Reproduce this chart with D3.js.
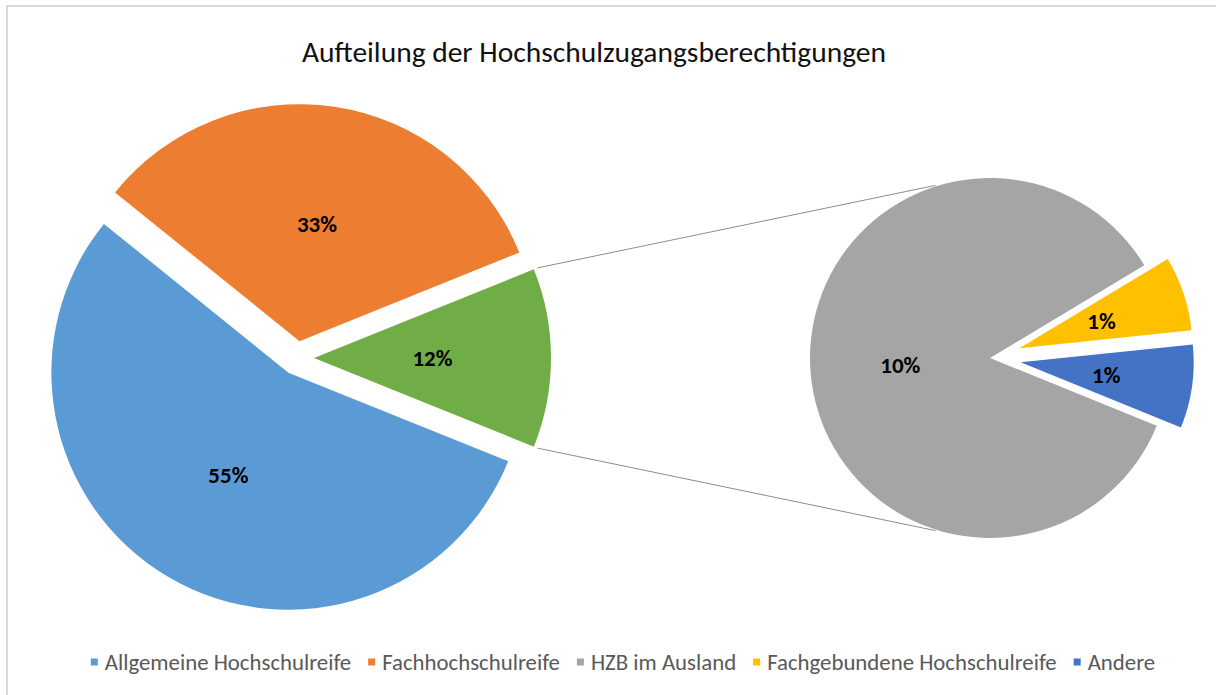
<!DOCTYPE html>
<html>
<head>
<meta charset="utf-8">
<script src="https://cdn.jsdelivr.net/npm/d3@7"></script>
<style>
  body { margin: 0; background: #fff; }
  svg { display: block; font-family: Calibri, Carlito, Lato, sans-serif; }
</style>
</head>
<body>
<svg></svg>
<script>
// data
const mainNames = ["Allgemeine Hochschulreife", "Fachhochschulreife"];
const mainValues = [54.7, 33.1];
const otherNames = ["HZB im Ausland", "Fachgebundene Hochschulreife", "Andere"];
const otherValues = [10.4, 0.85, 0.95];
const legendNames = ["Allgemeine Hochschulreife", "Fachhochschulreife", "HZB im Ausland", "Fachgebundene Hochschulreife", "Andere"];
const title = "Aufteilung der Hochschulzugangsberechtigungen";

(function pieOfPie() {
  const width = 1216, height = 695;
  const svg = d3.select("svg")
      .attr("width", width)
      .attr("height", height);

  const color = d3.scaleOrdinal()
      .domain(["Allgemeine Hochschulreife", "Fachhochschulreife", "HZB im Ausland", "Fachgebundene Hochschulreife", "Andere", "Sonstige"])
      .range(["#5b9bd5", "#ed7d31", "#a5a5a5", "#ffc000", "#4472c4", "#70ad47"]);

  const total = d3.sum(mainValues) + d3.sum(otherValues);
  const otherTotal = d3.sum(otherValues);
  const pct = d3.format(".0%");

  // chart frame
  svg.append("rect")
      .attr("x", 7).attr("y", 6)
      .attr("width", width + 20).attr("height", height + 20)
      .attr("fill", "#fff")
      .attr("stroke", "#d9d9d9")
      .attr("stroke-width", 2);

  svg.append("text")
      .attr("x", 594).attr("y", 52)
      .attr("text-anchor", "middle")
      .attr("dominant-baseline", "central")
      .style("font-size", "29.5px")
      .style("fill", "#111")
      .text(title);

  // left pie: main categories + the rest (green)
  const left = { cx: 297, cy: 358, r: 237, explode: 17 };
  const leftData = [{ name: "Sonstige", value: otherTotal }]
      .concat(mainNames.map((n, i) => ({ name: n, value: mainValues[i] })));
  const otherAngle = 2 * Math.PI * otherTotal / total;
  const leftStart = Math.PI / 2 - otherAngle / 2;
  const leftArcs = d3.pie().sort(null).value(d => d.value)
      .startAngle(leftStart).endAngle(leftStart + 2 * Math.PI)(leftData);

  // right pie: split of the rest
  const right = { cx: 990, cy: 358, r: 180 };
  const rightExplode = { "HZB im Ausland": 0, "Fachgebundene Hochschulreife": 31, "Andere": 31 };
  const rightRadius = { "HZB im Ausland": 180, "Fachgebundene Hochschulreife": 173, "Andere": 173 };
  const rightOrder = ["Fachgebundene Hochschulreife", "Andere", "HZB im Ausland"];
  const rightData = rightOrder.map(n => ({ name: n, value: otherValues[otherNames.indexOf(n)] }));
  const rightStart = 59 * Math.PI / 180;
  const rightArcs = d3.pie().sort(null).value(d => d.value)
      .startAngle(rightStart).endAngle(rightStart + 2 * Math.PI)(rightData);

  const shift = (a, e) => {
    const mid = (a.startAngle + a.endAngle) / 2;
    return [e * Math.sin(mid), -e * Math.cos(mid)];
  };

  // connector lines between the green slice and the second pie
  const green = leftArcs[0];
  const gOff = shift(green, left.explode);
  const conR = left.r + 4;
  const p = ang => [left.cx + gOff[0] + conR * Math.sin(ang), left.cy + gOff[1] - conR * Math.cos(ang)];
  const q = ang => [right.cx + (right.r + 1) * Math.sin(ang), right.cy - (right.r + 1) * Math.cos(ang)];
  const conAngle = 17.5 * Math.PI / 180;
  const lines = [
    [p(green.startAngle), q(-conAngle)],
    [p(green.endAngle), q(Math.PI + conAngle)]
  ];
  svg.append("g")
      .selectAll("line")
      .data(lines)
      .join("line")
      .attr("x1", d => d[0][0]).attr("y1", d => d[0][1])
      .attr("x2", d => d[1][0]).attr("y2", d => d[1][1])
      .attr("stroke", "#8c8c8c")
      .attr("stroke-width", 1);

  // left slices
  const leftArc = d3.arc().innerRadius(0).outerRadius(left.r);
  const lg = svg.append("g").attr("transform", `translate(${left.cx},${left.cy})`);
  const ls = lg.selectAll("g")
      .data(leftArcs)
      .join("g")
      .attr("transform", d => `translate(${shift(d, left.explode)})`);
  ls.append("path")
      .attr("d", leftArc)
      .attr("fill", d => color(d.data.name));
  ls.append("text")
      .attr("transform", d => `translate(${leftArc.centroid(d)})`)
      .attr("text-anchor", "middle")
      .attr("dominant-baseline", "central")
      .style("font-size", "23px")
      .style("font-weight", "bold")
      .style("fill", "#000")
      .text(d => pct(d.data.value / total));

  // right slices
  const rightArc = d => d3.arc().innerRadius(0).outerRadius(rightRadius[d.data.name]);
  const rg = svg.append("g").attr("transform", `translate(${right.cx},${right.cy})`);
  const rs = rg.selectAll("g")
      .data(rightArcs)
      .join("g")
      .attr("transform", d => `translate(${shift(d, rightExplode[d.data.name])})`);
  rs.append("path")
      .attr("d", d => rightArc(d)(d))
      .attr("fill", d => color(d.data.name));
  rs.append("text")
      .attr("transform", d => `translate(${rightArc(d).centroid(d)})`)
      .attr("text-anchor", "middle")
      .attr("dominant-baseline", "central")
      .style("font-size", "23px")
      .style("font-weight", "bold")
      .style("fill", "#000")
      .text(d => pct(d.data.value / total));

  // legend
  const legend = svg.append("g");
  const items = legend.selectAll("g")
      .data(legendNames)
      .join("g");
  items.append("rect")
      .attr("width", 7).attr("height", 7)
      .attr("y", -3.5)
      .attr("fill", d => color(d));
  items.append("text")
      .attr("x", 14)
      .attr("dominant-baseline", "central")
      .style("font-size", "22.8px")
      .style("fill", "#595959")
      .text(d => d);
  let x = 0;
  const pos = [];
  items.each(function() {
    pos.push(x);
    x += 14 + d3.select(this).select("text").node().getComputedTextLength() + 17;
  });
  const legendW = x - 17;
  const legendX = 623 - legendW / 2;
  items.attr("transform", (d, i) => `translate(${legendX + pos[i]},662)`);
})();
</script>
</body>
</html>
